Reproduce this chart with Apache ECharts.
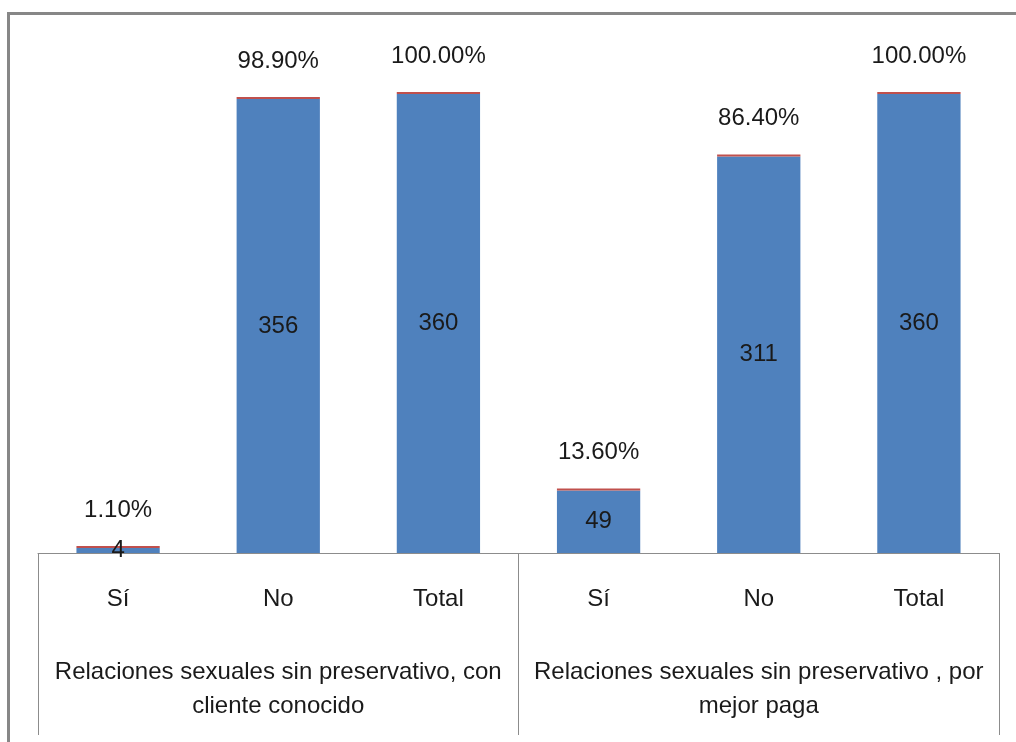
<!DOCTYPE html>
<html>
<head>
<meta charset="utf-8">
<script src="https://cdn.jsdelivr.net/npm/echarts@6/dist/echarts.min.js"></script>
<style>
  html, body { margin: 0; padding: 0; background: #fff; }
  #chart { width: 1016px; height: 742px; }
</style>
</head>
<body>
<div id="chart"></div>
<script>
// Answer categories, repeated for each question group
const categories = ['Sí', 'No', 'Total', 'Sí', 'No', 'Total'];
// Question groups shown on the second axis row
const groups = [
  'Relaciones sexuales sin preservativo, con\ncliente conocido',
  'Relaciones sexuales sin preservativo , por\nmejor paga'
];
// Number of respondents per answer
const counts = [4, 356, 360, 49, 311, 360];
// Share of respondents per answer (fraction of the total)
const shares = [0.011, 0.989, 1.0, 0.136, 0.864, 1.0];

const FONT = '"Liberation Sans", Arial, sans-serif';
const TEXT = '#1a1a1a';
const AXIS = '#8c8c8c';

const chart = echarts.init(document.getElementById('chart'), null, { renderer: 'canvas' });

chart.setOption({
  animation: false,
  backgroundColor: '#fff',
  textStyle: { fontFamily: FONT },
  graphic: [{
    type: 'rect',
    silent: true,
    shape: { x: 8.5, y: 13.5, width: 1040, height: 800 },
    style: { fill: 'none', stroke: '#878787', lineWidth: 3 }
  }],
  grid: { left: 38, right: 17, top: 43, bottom: 189, containLabel: false },
  xAxis: [
    {
      type: 'category',
      data: categories,
      position: 'bottom',
      axisLine: { show: false },
      axisTick: { show: false },
      axisLabel: { fontSize: 24, color: TEXT, fontFamily: FONT, margin: 34, lineHeight: 24 }
    },
    {
      type: 'category',
      data: groups,
      position: 'bottom',
      axisLine: { show: true, lineStyle: { color: AXIS, width: 1 } },
      axisTick: { show: true, length: 182, lineStyle: { color: AXIS, width: 1 } },
      axisLabel: { fontSize: 24, color: TEXT, fontFamily: FONT, margin: 102, lineHeight: 34, interval: 0 }
    }
  ],
  yAxis: {
    type: 'value',
    min: 0,
    max: 400,
    show: false,
    splitLine: { show: false }
  },
  series: [
    {
      name: 'Frecuencia',
      type: 'bar',
      stack: 'total',
      xAxisIndex: 0,
      barWidth: '52%',
      data: counts,
      itemStyle: { color: '#4F81BD' },
      label: {
        show: true,
        position: 'inside',
        fontSize: 24,
        color: TEXT,
        fontFamily: FONT
      }
    },
    {
      name: 'Porcentaje',
      type: 'bar',
      stack: 'total',
      xAxisIndex: 0,
      barWidth: '52%',
      barMinHeight: 2,
      data: shares,
      itemStyle: { color: '#C0504D' },
      label: {
        show: true,
        position: 'top',
        distance: 24,
        fontSize: 24,
        color: TEXT,
        fontFamily: FONT,
        formatter: p => (p.value * 100).toFixed(2) + '%'
      }
    }
  ]
});
</script>
</body>
</html>
